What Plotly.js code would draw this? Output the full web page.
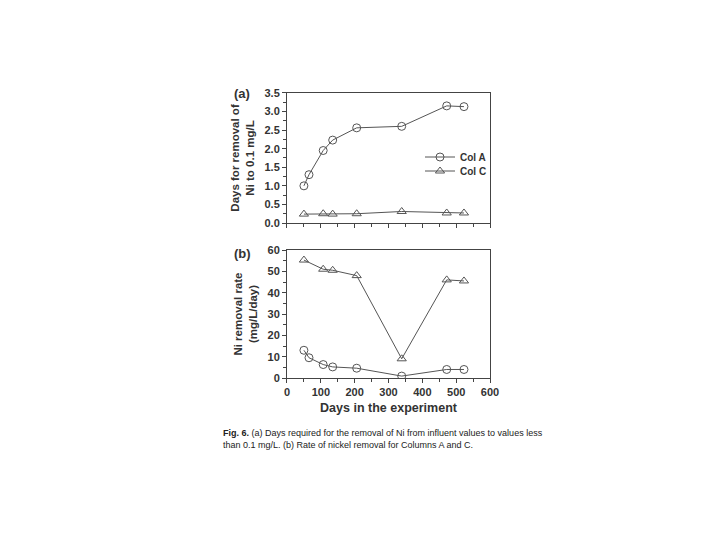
<!DOCTYPE html>
<html><head><meta charset="utf-8">
<script src="https://cdn.plot.ly/plotly-3.0.1.min.js"></script>
<style>body{margin:0;background:#fff}#c{width:720px;height:540px}</style>
</head><body><div id="c"></div>
<script>
// Data
const daysA = [50, 65, 107, 135, 206, 339, 472, 523];
const daysC = [50, 107, 135, 206, 339, 472, 523];
const removalDaysA = [1.0, 1.3, 1.95, 2.23, 2.56, 2.6, 3.15, 3.13];
const removalDaysC = [0.24, 0.25, 0.24, 0.25, 0.31, 0.27, 0.27];
const rateA = [13, 9.5, 6.3, 5.2, 4.6, 0.9, 4.0, 4.0];
const rateC = [55.3, 51, 50.5, 48, 9, 46, 45.5];

const lineCol = '#555';
const FAM = 'Liberation Sans, Arial, sans-serif';
const font = {family: FAM, color: '#333', size: 11, weight: 'bold'};
const titleFont = {family: FAM, size: 11.5, color: '#333', weight: 'bold'};

const traces = [
  {x: daysA, y: removalDaysA, name: 'Col A', mode: 'lines+markers', xaxis: 'x', yaxis: 'y', legend: 'legend',
   line: {color: lineCol, width: 1}, marker: {symbol: 'circle-open', size: 8, color: lineCol, line: {width: 1}}},
  {x: daysC, y: removalDaysC, name: 'Col C', mode: 'lines+markers', xaxis: 'x', yaxis: 'y', legend: 'legend2',
   line: {color: lineCol, width: 1}, marker: {symbol: 'triangle-up-open', size: 8, color: lineCol, line: {width: 1}}},
  {x: daysA, y: rateA, name: 'Col A', mode: 'lines+markers', xaxis: 'x2', yaxis: 'y2', showlegend: false,
   line: {color: lineCol, width: 1}, marker: {symbol: 'circle-open', size: 8, color: lineCol, line: {width: 1}}},
  {x: daysC, y: rateC, name: 'Col C', mode: 'lines+markers', xaxis: 'x2', yaxis: 'y2', showlegend: false,
   line: {color: lineCol, width: 1}, marker: {symbol: 'triangle-up-open', size: 8, color: lineCol, line: {width: 1}}}
];

const axBase = {showgrid: false, zeroline: false, showline: true, linecolor: '#444', linewidth: 1, mirror: true,
  ticks: 'outside', ticklen: 4, tickcolor: '#444', tickfont: font};

const legFont = {family: FAM, size: 10, color: '#333', weight: 'bold'};

const layout = {
  width: 720, height: 540, margin: {l: 0, r: 0, t: 0, b: 0},
  paper_bgcolor: '#fff', plot_bgcolor: '#fff', font: font,
  showlegend: true,
  legend: {x: 420/720, y: 1 - 157/540, xanchor: 'left', yanchor: 'middle', bgcolor: 'rgba(0,0,0,0)', font: legFont, itemwidth: 30},
  legend2: {x: 420/720, y: 1 - 171/540, xanchor: 'left', yanchor: 'middle', bgcolor: 'rgba(0,0,0,0)', font: legFont, itemwidth: 30},
  xaxis: Object.assign({}, axBase, {domain: [0.3986, 0.6806], range: [0, 600], dtick: 100, showticklabels: false,
    minor: {dtick: 50, ticks: 'outside', ticklen: 2.5, tickcolor: '#444'}, anchor: 'y'}),
  yaxis: Object.assign({}, axBase, {domain: [0.587, 0.828], range: [0, 3.5], dtick: 0.5, tickformat: '.1f',
    minor: {dtick: 0.25, ticks: 'outside', ticklen: 2.5, tickcolor: '#444'}, anchor: 'x',
    title: {text: 'Days for removal of<br>Ni to 0.1 mg/L', font: titleFont, standoff: 7}}),
  xaxis2: Object.assign({}, axBase, {domain: [0.3986, 0.6806], range: [0, 600], dtick: 100,
    minor: {dtick: 50, ticks: 'outside', ticklen: 2.5, tickcolor: '#444'}, anchor: 'y2',
    title: {text: 'Days in the experiment', font: {family: FAM, size: 12.5, color: '#333', weight: 'bold'}, standoff: 6}}),
  yaxis2: Object.assign({}, axBase, {domain: [0.3, 0.537], range: [0, 60], dtick: 10,
    minor: {dtick: 5, ticks: 'outside', ticklen: 2.5, tickcolor: '#444'}, anchor: 'x2',
    title: {text: 'Ni removal rate<br>(mg/L/day)', font: titleFont, standoff: 7}}),
  annotations: [
    {text: '(a)', xref: 'paper', yref: 'paper', x: 232/720, y: 1 - 93/540, xanchor: 'left', yanchor: 'middle', showarrow: false,
     font: {family: FAM, size: 13, color: '#333', weight: 'bold'}},
    {text: '(b)', xref: 'paper', yref: 'paper', x: 232/720, y: 1 - 253/540, xanchor: 'left', yanchor: 'middle', showarrow: false,
     font: {family: FAM, size: 13, color: '#333', weight: 'bold'}},
    {text: '<b>Fig. 6.</b> (a) Days required for the removal of Ni from influent values to values less<br>than 0.1 mg/L. (b) Rate of nickel removal for Columns A and C.',
     xref: 'paper', yref: 'paper', x: 221/720, y: 1 - 426/540, xanchor: 'left', yanchor: 'top', align: 'left', showarrow: false,
     font: {family: FAM, size: 9, color: '#222', weight: 'normal'}}
  ]
};

Plotly.newPlot('c', traces, layout, {displayModeBar: false, staticPlot: true});
</script>
</body></html>
